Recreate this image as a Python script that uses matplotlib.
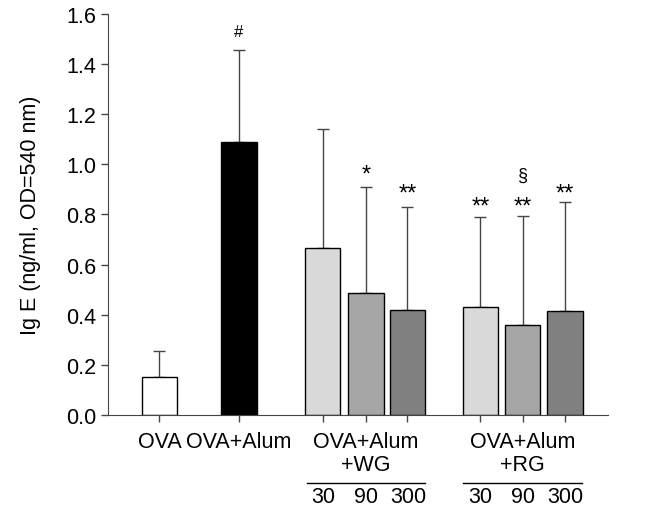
import numpy as np
import matplotlib.pyplot as plt

plt.rcParams['font.family'] = ['Liberation Sans', 'DejaVu Sans']

# bar data
positions = [0, 1.88, 3.86, 4.88, 5.86, 7.58, 8.58, 9.58]
means = [0.152, 1.09, 0.665, 0.485, 0.42, 0.43, 0.36, 0.415]
err_tops = [0.255, 1.455, 1.14, 0.91, 0.83, 0.79, 0.795, 0.85]
colors = ['white', 'black', '#d9d9d9', '#a6a6a6', '#808080', '#d9d9d9', '#a6a6a6', '#808080']
marks = ['', '#', '', '*', '**', '**', '**', '**']
mark_y = [0, 1.53, 0, 0.96, 0.885, 0.83, 0.83, 0.885]
extra_mark = ('§', 8.58, 0.955)

single_labels = ['OVA', 'OVA+Alum']
group_labels = ['OVA+Alum\n+WG', 'OVA+Alum\n+RG']
group_centers = [4.88, 8.58]
doses = ['30', '90', '300']

FS = 15.5

fig = plt.figure(figsize=(6.72, 5.10), dpi=100)
ax = fig.add_axes([0.161, 0.184, 0.744, 0.787])

yerr = np.array(err_tops) - np.array(means)
ax.bar(positions, means, width=0.83, color=colors, edgecolor='black', linewidth=1, zorder=2)
ax.errorbar(positions, means, yerr=[np.zeros(len(means)), yerr], fmt='none',
            ecolor='#444444', elinewidth=1, capsize=4.5, capthick=1, zorder=1)

for x, y, m in zip(positions, mark_y, marks):
    if m:
        ax.text(x, y, m, ha='center', va='center', fontsize=17 if '*' in m else 12)
ax.text(extra_mark[1], extra_mark[2], extra_mark[0], ha='center', va='center', fontsize=13)

ax.set_xlim(-1.21, 10.6)
ax.set_ylim(0, 1.6)
ax.set_yticks(np.arange(0, 1.61, 0.2))
ax.set_yticklabels([f'{v:.1f}' for v in np.arange(0, 1.61, 0.2)], fontsize=FS)
ax.set_xticks(positions)
ax.set_xticklabels([])
ax.tick_params(axis='both', direction='out', length=5, width=1, color='#444444')
ax.set_ylabel('Ig E (ng/ml, OD=540 nm)', fontsize=FS, labelpad=18)
for s in ['top', 'right']:
    ax.spines[s].set_visible(False)
for s in ['left', 'bottom']:
    ax.spines[s].set_color('#444444')

tr = ax.get_xaxis_transform()
for x, lab in zip(positions[:2], single_labels):
    ax.text(x, -0.065, lab, transform=tr, ha='center', va='center', fontsize=FS)
for c, lab in zip(group_centers, group_labels):
    ax.text(c, -0.065, lab.split('\n')[0], transform=tr, ha='center', va='center', fontsize=FS)
    ax.text(c, -0.122, lab.split('\n')[1], transform=tr, ha='center', va='center', fontsize=FS)
    ax.plot([c - 1.4, c + 1.4], [-0.170, -0.170], transform=tr, color='black', lw=1, clip_on=False)
    for k, d in enumerate(doses):
        ax.text(c + (k - 1) * 1.0, -0.203, d, transform=tr, ha='center', va='center', fontsize=FS)

fig.savefig('out.png', dpi=100)
